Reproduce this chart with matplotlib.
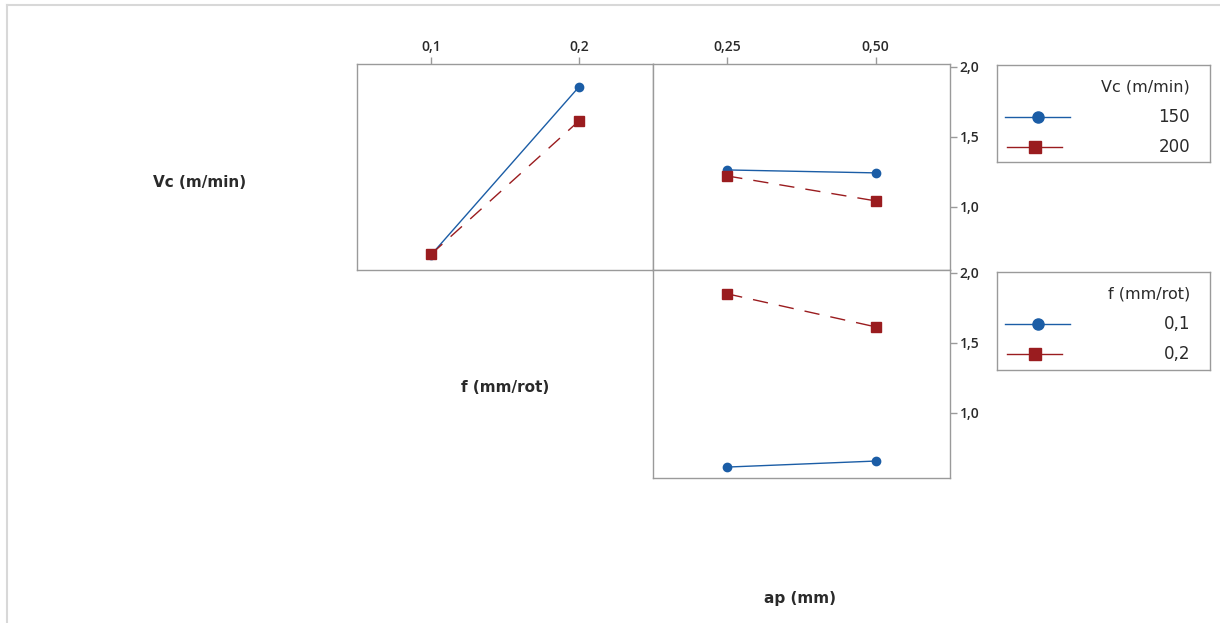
import matplotlib
matplotlib.use("Agg")
from matplotlib import pyplot as plt
from matplotlib.lines import Line2D

plt.rcParams['font.family'] = ['Open Sans', 'DejaVu Sans']

# niveles de los factores
f_niveles = [0.1, 0.2]
f_etiquetas = ["0,1", "0,2"]
ap_niveles = [0.25, 0.50]
ap_etiquetas = ["0,25", "0,50"]
vc_niveles = ["150", "200"]

# medias: Vc vs f (panel superior izquierdo)
vc150_vs_f = [0.657, 1.857]
vc200_vs_f = [0.662, 1.614]
# medias: Vc vs ap (panel superior derecho)
vc150_vs_ap = [1.264, 1.243]
vc200_vs_ap = [1.221, 1.043]
# medias: f vs ap (panel inferior)
f01_vs_ap = [0.614, 0.657]
f02_vs_ap = [1.850, 1.614]

y_ticks = [1.0, 1.5, 2.0]
y_etiquetas = ["1,0", "1,5", "2,0"]

AZUL = '#1B5DA6'
ROJO = '#9A1C1F'
GRIS = '#9a9a9a'
TEXTO = '#2a2a2a'
ANCHA = ['DejaVu Sans']

W, H = 1220, 623
fig = plt.figure(figsize=(W / 100, H / 100), dpi=100)


def rect(x0, y0, x1, y1):
    return [x0 / W, 1 - y1 / H, (x1 - x0) / W, (y1 - y0) / H]


def estilo(ax):
    for s in ax.spines.values():
        s.set_color(GRIS)
        s.set_linewidth(1.0)
    ax.tick_params(colors=GRIS, labelcolor=TEXTO, labelsize=10, length=5, width=1, pad=2)
    for t in ax.get_xticklabels() + ax.get_yticklabels():
        t.set_fontweight('semibold')


def series(ax, x, y_azul, y_rojo):
    ax.plot(x, y_azul, color=AZUL, lw=1.0, marker='o', ms=6, mec=AZUL, mfc=AZUL)
    ax.plot(x, y_rojo, color=ROJO, lw=1.0, ls=(0, (11, 8)), marker='s', ms=6.5, mec=ROJO, mfc=ROJO)


ylim_sup = (0.55, 2.02)
ylim_inf = (0.536, 2.02)

ax1 = fig.add_axes(rect(357, 64, 653, 270))
series(ax1, f_niveles, vc150_vs_f, vc200_vs_f)
ax1.set_xlim(0.05, 0.25)
ax1.set_ylim(*ylim_sup)
ax1.set_xticks(f_niveles, f_etiquetas)
ax1.xaxis.tick_top()
ax1.set_yticks([])
estilo(ax1)

ax2 = fig.add_axes(rect(653, 64, 950, 270))
series(ax2, ap_niveles, vc150_vs_ap, vc200_vs_ap)
ax2.set_xlim(0.125, 0.625)
ax2.set_ylim(*ylim_sup)
ax2.set_xticks(ap_niveles, ap_etiquetas)
ax2.xaxis.tick_top()
ax2.set_yticks(y_ticks, y_etiquetas)
ax2.yaxis.tick_right()
estilo(ax2)

ax3 = fig.add_axes(rect(653, 270, 950, 478))
series(ax3, ap_niveles, f01_vs_ap, f02_vs_ap)
ax3.set_xlim(0.125, 0.625)
ax3.set_ylim(*ylim_inf)
ax3.set_xticks([])
ax3.set_yticks(y_ticks, y_etiquetas)
ax3.yaxis.tick_right()
estilo(ax3)

# nombres de los factores en la diagonal
for x, y, txt in [(200, 183, "Vc (m/min)"), (505, 388, "f (mm/rot)"), (800, 598, "ap (mm)")]:
    fig.text(x / W, 1 - y / H, txt, ha='center', va='center', fontsize=11,
             fontweight='bold', color=TEXTO, family=ANCHA)


def leyenda(y0, y1, titulo, etiquetas):
    axl = fig.add_axes(rect(997, y0, 1210, y1))
    axl.set_xlim(997, 1210)
    axl.set_ylim(y1, y0)
    axl.set_xticks([])
    axl.set_yticks([])
    for s in axl.spines.values():
        s.set_color(GRIS)
        s.set_linewidth(1.0)
    axl.text(1190, y0 + 22, titulo, ha='right', va='center', fontsize=11.5, color=TEXTO, family=ANCHA)
    ya = y0 + 52
    yr = y0 + 82
    axl.add_line(Line2D([1005, 1070], [ya, ya], color=AZUL, lw=1.0))
    axl.add_line(Line2D([1038], [ya], color=AZUL, marker='o', ms=8))
    axl.add_line(Line2D([1007, 1062], [yr, yr], color=ROJO, lw=1.0))
    axl.add_line(Line2D([1035], [yr], color=ROJO, marker='s', ms=8))
    axl.text(1190, ya, etiquetas[0], ha='right', va='center', fontsize=12, color=TEXTO, family=ANCHA)
    axl.text(1190, yr, etiquetas[1], ha='right', va='center', fontsize=12, color=TEXTO, family=ANCHA)


leyenda(65, 162, "Vc (m/min)", vc_niveles)
leyenda(272, 370, "f (mm/rot)", f_etiquetas)

# marco gris de la imagen
fig.add_artist(Line2D([7 / W, 7 / W], [0, 1 - 5 / H], color='#d8d8d8', lw=1.5))
fig.add_artist(Line2D([7 / W, 1], [1 - 5 / H, 1 - 5 / H], color='#d8d8d8', lw=1.5))

fig.savefig("out.png", dpi=100)
